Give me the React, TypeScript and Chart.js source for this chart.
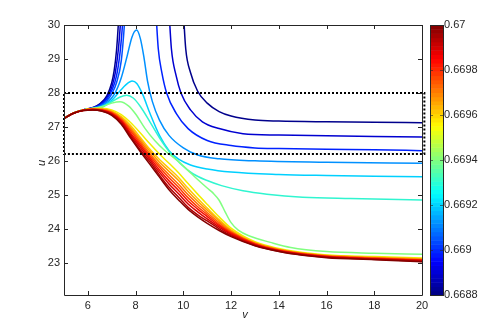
import React, { useEffect, useRef } from "react";
import { Chart, registerables } from "chart.js";
Chart.register(...registerables);

// ---- axes ----
const X_MIN = 5;
const X_MAX = 20;
const Y_MIN = 22.05;
const Y_MAX = 30;
const xTicks = [6, 8, 10, 12, 14, 16, 18, 20];
const yTicks = [23, 24, 25, 26, 27, 28, 29, 30];

// ---- colour bar ----
const cbMin = 0.6688;
const cbMax = 0.67;
const cbTicks = [0.6688, 0.669, 0.6692, 0.6694, 0.6696, 0.6698, 0.67];
const cbLabels = ["0.6688", "0.669", "0.6692", "0.6694", "0.6696", "0.6698", "0.67"];

// ---- dotted box ----
const boxX = [5, 20.1, 20.1, 5, 5];
const boxY = [28, 28, 26.2, 26.2, 28];

// ---- blue curves that blow up (left branches) ----
const b0LX = [5, 5.4, 5.8, 6.2, 6.5, 6.8, 7.0, 7.1, 7.2, 7.27, 7.32];
const b0LY = [27.25, 27.41, 27.5, 27.57, 27.68, 27.92, 28.3, 28.65, 29.25, 29.95, 30.6];
const b1LX = [5, 5.4, 5.8, 6.2, 6.5, 6.8, 7.0, 7.15, 7.28, 7.36, 7.41];
const b1LY = [27.25, 27.41, 27.5, 27.56, 27.66, 27.87, 28.17, 28.6, 29.3, 30.0, 30.6];
const b2LX = [5, 5.4, 5.8, 6.2, 6.5, 6.8, 7.0, 7.2, 7.35, 7.45, 7.5];
const b2LY = [27.25, 27.41, 27.5, 27.56, 27.64, 27.82, 28.07, 28.5, 29.2, 30.0, 30.6];
const b3LX = [5, 5.4, 5.8, 6.2, 6.5, 6.8, 7.0, 7.2, 7.4, 7.53, 7.58];
const b3LY = [27.25, 27.41, 27.5, 27.55, 27.62, 27.77, 27.97, 28.3, 28.95, 30.0, 30.6];

// ---- right branches coming down from the top ----
const r0X = [10.0, 10.1, 10.3, 10.6, 11, 11.5, 12, 13, 14, 16, 18, 20];
const r0Y = [30.4, 29.3, 28.6, 28.05, 27.7, 27.45, 27.32, 27.2, 27.17, 27.15, 27.14, 27.12];
const r1X = [9.4, 9.5, 9.7, 9.9, 10.3, 10.8, 11.5, 12.5, 14, 16, 18, 20];
const r1Y = [30.4, 29.3, 28.5, 28.0, 27.5, 27.15, 26.95, 26.8, 26.76, 26.74, 26.72, 26.7];
const r2X = [8.85, 8.95, 9.1, 9.3, 9.7, 10.2, 11, 12, 13, 14, 16, 18, 20];
const r2Y = [30.4, 29.3, 28.6, 28.0, 27.4, 26.95, 26.6, 26.45, 26.38, 26.36, 26.34, 26.33, 26.3];

// ---- curves with a hump ----
const p1X = [5, 5.4, 5.8, 6.2, 6.5, 6.8, 7.1, 7.4, 7.65, 7.85, 8.04, 8.2, 8.35, 8.5, 8.7, 9.0, 9.4, 10, 10.6, 11.5, 13, 16, 20];
const p1Y = [27.25, 27.41, 27.5, 27.55, 27.6, 27.72, 27.95, 28.45, 29.1, 29.65, 29.85, 29.6, 29.05, 28.35, 27.75, 27.2, 26.75, 26.38, 26.17, 26.06, 26.0, 25.96, 25.93];
const p2X = [5, 5.4, 5.8, 6.2, 6.6, 7.0, 7.4, 7.7, 7.85, 8.05, 8.3, 8.6, 9.0, 9.4, 9.8, 10.3, 11, 12, 14, 16, 18, 20];
const p2Y = [27.25, 27.41, 27.5, 27.54, 27.6, 27.78, 28.1, 28.3, 28.35, 28.28, 27.95, 27.4, 26.75, 26.3, 26.05, 25.88, 25.76, 25.67, 25.6, 25.57, 25.55, 25.53];
const p3X = [5, 5.4, 5.8, 6.2, 6.6, 7.0, 7.35, 7.63, 7.9, 8.2, 8.6, 9.0, 9.4, 9.9, 10.4, 11, 11.6, 12.5, 13.5, 15, 17, 20];
const p3Y = [27.25, 27.41, 27.5, 27.54, 27.58, 27.74, 27.88, 27.93, 27.85, 27.6, 27.15, 26.68, 26.28, 25.9, 25.62, 25.42, 25.27, 25.12, 25.02, 24.93, 24.89, 24.85];
const gX = [5, 5.4, 5.8, 6.2, 6.6, 7.0, 7.35, 7.7, 8.0, 8.4, 8.8, 9.2, 9.73, 10.15, 10.6, 11.0, 11.25, 11.5, 11.75, 12.0, 12.3, 12.8, 13.65, 14.5, 16, 18, 20];
const gY = [27.25, 27.41, 27.5, 27.54, 27.6, 27.7, 27.74, 27.62, 27.38, 26.95, 26.6, 26.32, 26.02, 25.75, 25.45, 25.2, 25.05, 24.84, 24.5, 24.18, 23.96, 23.78, 23.6, 23.45, 23.33, 23.28, 23.25];

// ---- warm curves (shared v grid) ----
const wX = [5, 5.4, 5.8, 6.2, 6.6, 7.0, 7.4, 7.8, 8.2, 8.6, 9.0, 9.4, 9.8, 10.2, 10.6, 11.0, 11.5, 12, 13, 14, 15, 16, 18, 20];
const w0Y = [27.25, 27.41, 27.5, 27.54, 27.55, 27.5, 27.36, 27.12, 26.82, 26.5, 26.2, 25.93, 25.65, 25.33, 25.02, 24.72, 24.35, 24.02, 23.62, 23.42, 23.3, 23.23, 23.18, 23.14];
const w1Y = [27.25, 27.41, 27.5, 27.53, 27.53, 27.47, 27.3, 27.03, 26.69, 26.34, 26.04, 25.78, 25.51, 25.19, 24.89, 24.61, 24.27, 23.97, 23.6, 23.4, 23.28, 23.21, 23.16, 23.12];
const w2Y = [27.25, 27.41, 27.49, 27.53, 27.52, 27.45, 27.27, 26.97, 26.63, 26.28, 25.96, 25.69, 25.42, 25.1, 24.81, 24.55, 24.23, 23.94, 23.58, 23.39, 23.28, 23.21, 23.15, 23.11];
const w3Y = [27.25, 27.41, 27.49, 27.52, 27.51, 27.43, 27.24, 26.92, 26.57, 26.21, 25.88, 25.59, 25.31, 25.0, 24.73, 24.48, 24.18, 23.91, 23.57, 23.38, 23.27, 23.2, 23.14, 23.09];
const w4Y = [27.25, 27.4, 27.49, 27.52, 27.5, 27.41, 27.21, 26.87, 26.51, 26.15, 25.81, 25.5, 25.22, 24.91, 24.65, 24.42, 24.13, 23.89, 23.56, 23.37, 23.26, 23.19, 23.13, 23.08];
const w5Y = [27.25, 27.4, 27.49, 27.51, 27.49, 27.4, 27.18, 26.81, 26.45, 26.09, 25.73, 25.41, 25.13, 24.82, 24.58, 24.36, 24.09, 23.86, 23.54, 23.36, 23.25, 23.18, 23.12, 23.07];
const w6Y = [27.25, 27.4, 27.48, 27.51, 27.48, 27.38, 27.15, 26.76, 26.39, 26.03, 25.66, 25.32, 25.03, 24.73, 24.5, 24.29, 24.05, 23.83, 23.53, 23.35, 23.24, 23.17, 23.11, 23.06];
const w7Y = [27.25, 27.4, 27.48, 27.5, 27.47, 27.36, 27.11, 26.71, 26.32, 25.97, 25.58, 25.22, 24.93, 24.63, 24.41, 24.23, 24.0, 23.8, 23.51, 23.34, 23.23, 23.16, 23.1, 23.04];
const w8Y = [27.25, 27.4, 27.48, 27.5, 27.46, 27.34, 27.08, 26.66, 26.27, 25.9, 25.52, 25.15, 24.85, 24.57, 24.35, 24.16, 23.95, 23.77, 23.5, 23.33, 23.22, 23.15, 23.09, 23.03];

// series list: [xs, ys, colour] — first drawn at the bottom
const series: [number[], number[], string][] = [
  [b0LX, b0LY, "#00008c"],
  [r0X, r0Y, "#00008c"],
  [b1LX, b1LY, "#0000d0"],
  [r1X, r1Y, "#0000d0"],
  [b2LX, b2LY, "#0022ff"],
  [r2X, r2Y, "#0022ff"],
  [b3LX, b3LY, "#0050ff"],
  [p1X, p1Y, "#0090ff"],
  [p2X, p2Y, "#00d0ff"],
  [p3X, p3Y, "#30f5d0"],
  [gX, gY, "#80ff80"],
  [wX, w0Y, "#f0f000"],
  [wX, w1Y, "#ffc800"],
  [wX, w2Y, "#ff9c00"],
  [wX, w3Y, "#ff6c00"],
  [wX, w4Y, "#ff3c00"],
  [wX, w5Y, "#f41000"],
  [wX, w6Y, "#d80000"],
  [wX, w7Y, "#b00000"],
  [wX, w8Y, "#840000"],
];

const FONT = "'Liberation Sans', Arial, Helvetica, sans-serif";
const INK = "#262626";

function jet(t: number): string {
  const c = (v: number) => Math.round(255 * Math.max(0, Math.min(1, v)));
  const r = c(1.5 - Math.abs(4 * t - 3));
  const g = c(1.5 - Math.abs(4 * t - 2));
  const b = c(1.5 - Math.abs(4 * t - 1));
  return `rgb(${r},${g},${b})`;
}

const framePlugin = {
  id: "frame",
  afterDraw(chart: any) {
    const { ctx, chartArea: a, scales } = chart;
    const xs = scales.x;
    const ys = scales.y;
    ctx.save();
    ctx.strokeStyle = INK;
    ctx.lineWidth = 1;
    ctx.beginPath();
    ctx.rect(Math.round(a.left) + 0.5, Math.round(a.top) + 0.5, Math.round(a.right - a.left), Math.round(a.bottom - a.top));
    ctx.stroke();
    const tl = 4;
    ctx.beginPath();
    for (const v of xTicks) {
      const px = Math.round(xs.getPixelForValue(v)) + 0.5;
      ctx.moveTo(px, a.bottom);
      ctx.lineTo(px, a.bottom - tl);
      ctx.moveTo(px, a.top);
      ctx.lineTo(px, a.top + tl);
    }
    for (const v of yTicks) {
      const py = Math.round(ys.getPixelForValue(v)) + 0.5;
      ctx.moveTo(a.left, py);
      ctx.lineTo(a.left + tl, py);
      ctx.moveTo(a.right, py);
      ctx.lineTo(a.right - tl, py);
    }
    ctx.stroke();

    // axis titles
    ctx.fillStyle = INK;
    ctx.font = `italic 11px ${FONT}`;
    ctx.textAlign = "center";
    ctx.textBaseline = "middle";
    ctx.fillText("v", (a.left + a.right) / 2 + 2, 315);
    ctx.save();
    ctx.translate(42, (a.top + a.bottom) / 2 + 3);
    ctx.rotate(-Math.PI / 2);
    ctx.fillText("u", 0, 0);
    ctx.restore();

    // colour bar
    const cx0 = 430;
    const cx1 = 443;
    const top = a.top;
    const bot = a.bottom;
    const n = 64;
    const h = (bot - top) / n;
    for (let i = 0; i < n; i++) {
      ctx.fillStyle = jet((i + 0.5) / n);
      ctx.fillRect(cx0, bot - (i + 1) * h, cx1 - cx0, h + 0.5);
    }
    ctx.strokeStyle = INK;
    ctx.strokeRect(cx0 + 0.5, top + 0.5, cx1 - cx0, bot - top);
    ctx.fillStyle = INK;
    ctx.font = `11px ${FONT}`;
    ctx.textAlign = "left";
    ctx.textBaseline = "middle";
    ctx.beginPath();
    cbTicks.forEach((v, i) => {
      const py = bot - ((v - cbMin) / (cbMax - cbMin)) * (bot - top);
      const pr = Math.round(py) + 0.5;
      ctx.moveTo(cx0, pr);
      ctx.lineTo(cx0 + 3, pr);
      ctx.moveTo(cx1, pr);
      ctx.lineTo(cx1 - 3, pr);
      ctx.fillText(cbLabels[i], cx1 + 1, py);
    });
    ctx.strokeStyle = "rgba(40,40,40,0.6)";
    ctx.stroke();
    ctx.restore();
  },
};

export default function App() {
  const ref = useRef<HTMLCanvasElement | null>(null);
  useEffect(() => {
    document.body.style.margin = "0";
    if (!ref.current) return;
    const lineSets = series.map(([xsArr, ysArr, color]) => ({
      data: xsArr.map((x, i) => ({ x, y: ysArr[i] })),
      borderColor: color,
      borderWidth: 1.5,
      pointRadius: 0,
      fill: false,
      cubicInterpolationMode: "monotone" as const,
    }));
    const boxSet = {
      data: boxX.map((x, i) => ({ x, y: boxY[i] })),
      borderColor: "#000000",
      borderWidth: 2,
      borderDash: [2, 2],
      pointRadius: 0,
      fill: false,
      tension: 0,
      clip: false as any,
    };
    // Chart.js draws dataset 0 on top, so reverse
    const datasets = [boxSet, ...lineSets.reverse()];
    const chart = new Chart(ref.current, {
      type: "line",
      data: { datasets: datasets as any },
      options: {
        animation: false,
        responsive: false,
        events: [],
        layout: { padding: { top: 25, right: 76, left: 0, bottom: 0 } },
        plugins: { legend: { display: false }, tooltip: { enabled: false } },
        scales: {
          x: {
            type: "linear",
            min: X_MIN,
            max: X_MAX,
            grid: { display: false, drawTicks: false },
            border: { display: false },
            afterBuildTicks: (s: any) => {
              s.ticks = xTicks.map((v) => ({ value: v }));
            },
            afterFit: (s: any) => {
              s.height = 37;
            },
            ticks: {
              padding: 4,
              color: INK,
              font: { family: FONT, size: 11 },
              maxRotation: 0,
              callback: (v: any) => String(v),
            },
          },
          y: {
            type: "linear",
            min: Y_MIN,
            max: Y_MAX,
            grid: { display: false, drawTicks: false },
            border: { display: false },
            afterBuildTicks: (s: any) => {
              s.ticks = yTicks.map((v) => ({ value: v }));
            },
            afterFit: (s: any) => {
              s.width = 64;
            },
            ticks: {
              padding: 4,
              color: INK,
              font: { family: FONT, size: 11 },
              callback: (v: any) => String(v),
            },
          },
        },
      },
      plugins: [framePlugin],
    });
    return () => chart.destroy();
  }, []);
  return (
    <div style={{ width: 498, height: 332 }}>
      <canvas ref={ref} width={498} height={332} />
    </div>
  );
}
